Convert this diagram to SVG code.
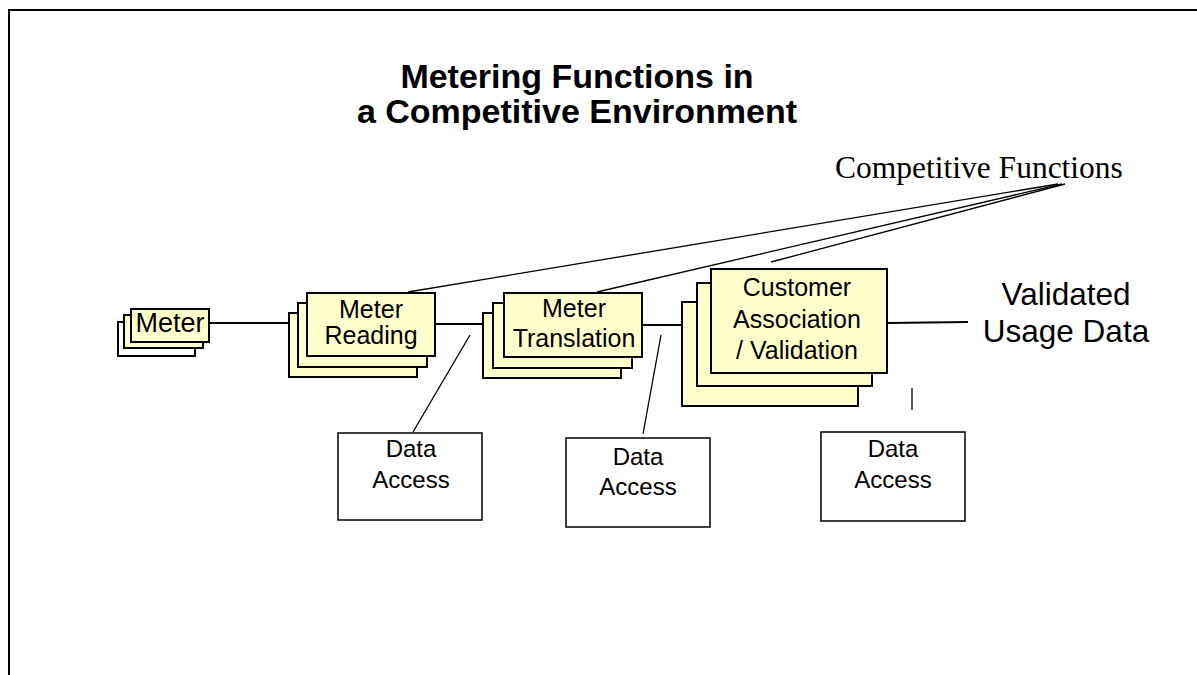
<svg xmlns="http://www.w3.org/2000/svg" width="1197" height="675" viewBox="0 0 1197 675">
  <style>
    .frame { fill: none; stroke: #000; stroke-width: 2; }
    .card { fill: #FFFFCC; stroke: #000; stroke-width: 2; }
    .card-blank { fill: #FFFFFF; stroke: #000; stroke-width: 2; }
    .box { fill: #FFFFFF; stroke: #000; stroke-width: 1.5; }
    .link { fill: none; stroke: #000; stroke-width: 2; }
    .thin { fill: none; stroke: #000; stroke-width: 1.3; }
    .lbl { font-family: "Liberation Sans", Arial, sans-serif; fill: #000; text-anchor: middle; }
    .title { font-family: "Liberation Sans", Arial, sans-serif; font-weight: bold; font-size: 34px; fill: #000; text-anchor: middle; }
    .serif { font-family: "Liberation Serif", "Times New Roman", serif; font-size: 31.5px; fill: #000; }
  </style>

  <rect width="1197" height="675" fill="#FFFFFF"/>
  <!-- page frame, open to the right and bottom -->
  <path class="frame" d="M9,680 V10 H1200"/>

  <!-- title -->
  <g id="title">
    <text class="title" x="577" y="88">Metering Functions in</text>
    <text class="title" x="577" y="123">a Competitive Environment</text>
  </g>

  <!-- connectors -->
  <g id="connectors">
    <line class="link" x1="209" y1="323" x2="289" y2="323"/>
    <line class="link" x1="435" y1="324" x2="483" y2="324"/>
    <line class="link" x1="642" y1="325" x2="682" y2="325"/>
    <line class="link" x1="887" y1="323" x2="968" y2="322"/>
    <!-- competitive function callouts -->
    <line class="thin" x1="1058" y1="184" x2="408" y2="292"/>
    <line class="thin" x1="1062" y1="184" x2="597" y2="292"/>
    <line class="thin" x1="1065" y1="184" x2="771" y2="262"/>
    <!-- data access links -->
    <line class="thin" x1="470" y1="335" x2="413" y2="432"/>
    <line class="thin" x1="661" y1="335" x2="643" y2="434"/>
    <line class="thin" x1="912" y1="388" x2="912" y2="410"/>
  </g>

  <g id="competitive-functions">
    <text class="serif" x="835" y="178">Competitive Functions</text>
  </g>

  <!-- meter stack -->
  <g id="meter">
    <rect class="card-blank" x="118" y="322" width="77" height="34"/>
    <rect class="card" x="124" y="315" width="79" height="33"/>
    <rect class="card" x="131" y="309" width="78" height="33"/>
    <text class="lbl" x="170" y="332" font-size="27">Meter</text>
  </g>

  <g id="meter-reading">
    <rect class="card" x="289" y="313" width="128" height="64"/>
    <rect class="card" x="298" y="303" width="129" height="64"/>
    <rect class="card" x="307" y="293" width="128" height="63"/>
    <text class="lbl" x="371" y="318" font-size="25">Meter</text>
    <text class="lbl" x="371" y="344" font-size="25">Reading</text>
  </g>

  <g id="meter-translation">
    <rect class="card" x="483" y="313" width="138" height="65"/>
    <rect class="card" x="493" y="303" width="139" height="65"/>
    <rect class="card" x="504" y="293" width="138" height="64"/>
    <text class="lbl" x="574" y="317" font-size="25">Meter</text>
    <text class="lbl" x="574" y="347" font-size="25">Translation</text>
  </g>

  <g id="customer-association">
    <rect class="card" x="682" y="302" width="176" height="104"/>
    <rect class="card" x="697" y="283" width="175" height="103"/>
    <rect class="card" x="711" y="269" width="176" height="104"/>
    <text class="lbl" x="797" y="296" font-size="25">Customer</text>
    <text class="lbl" x="797" y="328" font-size="25">Association</text>
    <text class="lbl" x="797" y="359" font-size="25">/ Validation</text>
  </g>

  <g id="validated-usage-data">
    <text class="lbl" x="1066" y="305" font-size="31.5">Validated</text>
    <text class="lbl" x="1066" y="342" font-size="31.5">Usage Data</text>
  </g>

  <g id="data-access-1">
    <rect class="box" x="338" y="433" width="144" height="87"/>
    <text class="lbl" x="411" y="457" font-size="24">Data</text>
    <text class="lbl" x="411" y="488" font-size="24">Access</text>
  </g>

  <g id="data-access-2">
    <rect class="box" x="566" y="438" width="144" height="89"/>
    <text class="lbl" x="638" y="465" font-size="24">Data</text>
    <text class="lbl" x="638" y="495" font-size="24">Access</text>
  </g>

  <g id="data-access-3">
    <rect class="box" x="821" y="432" width="144" height="89"/>
    <text class="lbl" x="893" y="457" font-size="24">Data</text>
    <text class="lbl" x="893" y="488" font-size="24">Access</text>
  </g>
</svg>
